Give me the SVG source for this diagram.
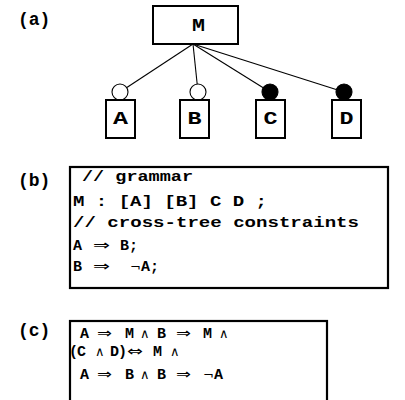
<svg xmlns="http://www.w3.org/2000/svg" width="405" height="400" viewBox="0 0 405 400">
<style>
.t{font-family:"Liberation Mono","Courier New",monospace;font-weight:bold;fill:#000}
.lab{font-size:18px}
.nd{font-size:19px;text-anchor:middle}
.code{font-size:15px}
.sym{font-family:"DejaVu Sans",sans-serif;font-weight:normal;fill:#000}
.and{font-size:13px}
.box{fill:#fff;stroke:#000;stroke-width:2}
.pane{fill:#fff;stroke:#000;stroke-width:2.2}
.edge{stroke:#000;stroke-width:1.1;fill:none}
</style>
<rect width="405" height="400" fill="#fff"/>
<text class="t lab" x="18" y="25">(a)</text>
<text class="t lab" x="18" y="186">(b)</text>
<text class="t lab" x="18" y="336">(c)</text>
<g id="connectors">
<line class="edge" x1="193" y1="44" x2="120" y2="92"/>
<line class="edge" x1="193" y1="44" x2="198" y2="92"/>
<line class="edge" x1="193" y1="44" x2="270" y2="92"/>
<line class="edge" x1="193" y1="44" x2="344" y2="92"/>
<circle cx="120" cy="92" r="8" fill="#fff" stroke="#000" stroke-width="1.1"/>
<circle cx="198" cy="92" r="8" fill="#fff" stroke="#000" stroke-width="1.1"/>
<circle cx="270" cy="92" r="8" fill="#000" stroke="#000" stroke-width="1.1"/>
<circle cx="344" cy="92" r="8" fill="#000" stroke="#000" stroke-width="1.1"/>
</g>
<g id="M"><rect class="box" x="153" y="6" width="85" height="38"/><text class="t" font-size="18" x="192" y="31" textLength="13" lengthAdjust="spacingAndGlyphs">M</text></g>
<g id="A"><rect class="box" x="106" y="100" width="29" height="38"/><text class="t" font-size="19" x="113" y="124" textLength="15" lengthAdjust="spacingAndGlyphs">A</text></g>
<g id="B"><rect class="box" x="180" y="100" width="29" height="38"/><text class="t" font-size="19" x="187.5" y="124" textLength="14" lengthAdjust="spacingAndGlyphs">B</text></g>
<g id="C"><rect class="box" x="256" y="100" width="29" height="38"/><text class="t" font-size="19" x="263.5" y="124" textLength="14" lengthAdjust="spacingAndGlyphs">C</text></g>
<g id="D"><rect class="box" x="332" y="100" width="29" height="38"/><text class="t" font-size="19" x="339.5" y="124" textLength="14" lengthAdjust="spacingAndGlyphs">D</text></g>
<g id="grammar">
<rect class="pane" x="70" y="167" width="318" height="121"/>
<text class="t code" x="82" y="181" textLength="111" lengthAdjust="spacingAndGlyphs">// grammar</text>
<text class="t code" x="73" y="206" textLength="194" lengthAdjust="spacingAndGlyphs">M : [A] [B] C D ;</text>
<text class="t code" x="73" y="227" textLength="286" lengthAdjust="spacingAndGlyphs">// cross-tree constraints</text>
<text class="t code" x="73" y="250">A</text>
<text class="sym" font-size="14" x="93" y="250" textLength="17" lengthAdjust="spacingAndGlyphs">⇒</text>
<text class="t code" x="120" y="250">B;</text>
<text class="t code" x="73" y="271">B</text>
<text class="sym" font-size="14" x="93" y="271" textLength="17" lengthAdjust="spacingAndGlyphs">⇒</text>
<text class="sym" font-size="13" x="130" y="271">¬</text>
<text class="t code" x="141" y="271">A;</text>
</g>
<g id="formula">
<rect class="pane" x="70" y="321" width="257" height="90"/>
<text class="t code" x="80" y="338">A</text>
<text class="sym" font-size="14" x="97" y="338" textLength="15" lengthAdjust="spacingAndGlyphs">⇒</text>
<text class="t code" x="125" y="338">M</text>
<text class="sym and" x="140" y="338">∧</text>
<text class="t code" x="157" y="338">B</text>
<text class="sym" font-size="14" x="176" y="338" textLength="15" lengthAdjust="spacingAndGlyphs">⇒</text>
<text class="t code" x="203" y="338">M</text>
<text class="sym and" x="219" y="338">∧</text>
<text class="t code" x="69" y="356">(</text>
<text class="t code" x="77" y="356">C</text>
<text class="sym and" x="95" y="356">∧</text>
<text class="t code" x="110" y="356">D</text>
<text class="t code" x="118" y="356">)</text>
<text class="sym" font-size="14" x="127" y="356" textLength="16" lengthAdjust="spacingAndGlyphs">⇔</text>
<text class="t code" x="153" y="356">M</text>
<text class="sym and" x="170" y="356">∧</text>
<text class="t code" x="80" y="379">A</text>
<text class="sym" font-size="14" x="97" y="379" textLength="15" lengthAdjust="spacingAndGlyphs">⇒</text>
<text class="t code" x="125" y="379">B</text>
<text class="sym and" x="140" y="379">∧</text>
<text class="t code" x="157" y="379">B</text>
<text class="sym" font-size="14" x="176" y="379" textLength="15" lengthAdjust="spacingAndGlyphs">⇒</text>
<text class="sym" font-size="13" x="203" y="379">¬</text>
<text class="t code" x="214" y="379">A</text>
</g>
</svg>
